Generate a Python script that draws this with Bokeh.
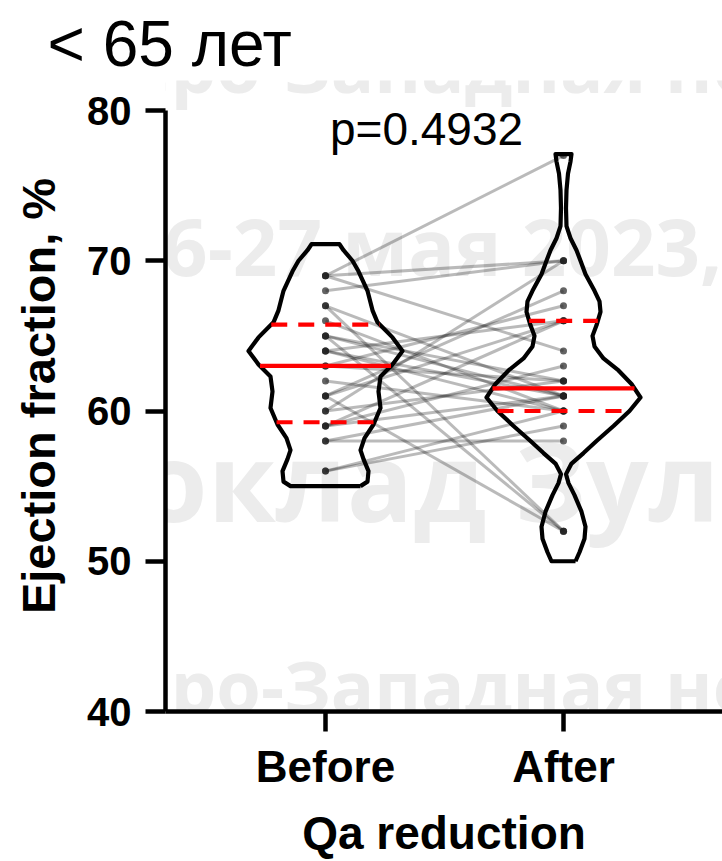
import numpy as np
from bokeh.plotting import figure
from bokeh.models import Label, FixedTicker, Range1d, ColumnDataSource, Title
from bokeh.embed import file_html
from bokeh.resources import INLINE

# ---------------- data ----------------
categories = ["Before", "After"]
before = [69, 69, 69, 68, 67, 67, 66, 65, 65, 65, 64, 64, 64, 63,
          63, 62, 61, 61, 61, 60, 60, 59, 59, 59, 58, 58, 56, 56]
after = [77, 70, 64, 70, 52, 61, 60, 61, 62, 52, 61, 60, 66, 62,
         67, 60, 68, 66, 52, 70, 62, 66, 63, 61, 58, 61, 59, 60]
y_ticks = [40, 50, 60, 70, 80]
p_value_text = "p=0.4932"
title_text = "< 65 лет"
x_title = "Qa reduction"
y_title = "Ejection fraction, %"

# violin outlines: level (EF, %) and relative density (78 = widest)
before_levels = [55.0, 55.3, 56.0, 56.8, 57.4, 58.2, 59.1, 60.2, 61.3, 62.3,
                 63.1, 64.0, 64.9, 65.9, 66.7, 68.0, 69.3, 70.0, 70.7, 71.1]
before_density = [35, 42, 43, 38, 35, 39, 48, 55, 53, 55,
                  67, 77, 67, 52, 47, 42, 33, 27, 18, 14]
after_levels = [50.0, 50.6, 51.5, 52.3, 53.3, 54.4, 55.2, 55.8, 56.5, 57.2,
                58.0, 59.0, 60.0, 60.9, 61.8, 62.7, 63.5, 64.3, 65.0, 65.7,
                66.6, 67.3, 68.0, 69.1, 70.0, 70.7, 71.5, 72.3, 73.5, 74.7,
                75.8, 76.6, 77.1]
after_density = [12, 16, 21, 22, 18, 11, 5, 2.5, 8, 20,
                 33, 50, 66, 77, 68, 55, 40, 31, 29, 33,
                 37, 36, 31, 22, 17, 13, 7, 3, 2.5, 3,
                 4.5, 7, 8]

watermarks = ["Северо-Западная не", "26-27 мая 2023,", "Доклад Зуль",
              "Северо-Западная не"]

# ---------------- geometry ----------------
W, H = 722, 861
LEFT, TOP, BOTTOM = 165, 80, 150   # frame borders (px)
AX_TOP_PX, AX_BOT_PX = 110, 711    # where 80 and 40 sit
PX_PER_Y = (AX_BOT_PX - AX_TOP_PX) / (y_ticks[-1] - y_ticks[0])
Y0 = y_ticks[0]
Y1 = y_ticks[-1] + (AX_TOP_PX - TOP) / PX_PER_Y
PX_PER_X = 238.0
X0 = 1 - (325 - LEFT) / PX_PER_X
X1 = 2 + (W - 563) / PX_PER_X

def px2x(px):
    return X0 + (px - LEFT) / PX_PER_X
def px2y(py):
    return Y1 - (py - TOP) / PX_PER_Y

p = figure(width=W, height=H, x_range=Range1d(X0, X1), y_range=Range1d(Y0, Y1),
           output_backend="svg", toolbar_location=None,
           min_border_left=LEFT, min_border_right=0, min_border_top=TOP,
           min_border_bottom=BOTTOM)
p.outline_line_color = None
p.grid.visible = False
p.background_fill_color = "white"
p.border_fill_color = "white"

# title in the top panel, shifted left over the axis area
p.add_layout(Title(text=title_text, align="left", offset=47 - LEFT,
                   vertical_align="middle",
                   text_font="Liberation Sans", text_font_style="normal",
                   text_font_size="64px", text_color="black", standoff=0),
             "above")

# watermark (behind everything)
wm_specs = [(-6, 64, 72), (118, 245, 78), (55, 478, 110), (-6, 684, 72)]
for txt, (wx, wy, fs) in zip(watermarks, wm_specs):
    p.add_layout(Label(x=px2x(wx), y=px2y(wy), text=txt, text_font="Open Sans",
                       text_font_style="bold", text_font_size=f"{fs}px",
                       text_color="#ececec", text_baseline="middle",
                       level="underlay"))

# paired lines
src = ColumnDataSource(dict(before=before, after=after))
p.segment(x0=1, y0="before", x1=2, y1="after", source=src,
          line_color="black", line_alpha=0.27, line_width=3)

# dots
p.scatter(x=[1] * len(before), y=before, size=7, fill_color="#222222",
          fill_alpha=0.7, line_color=None)
p.scatter(x=[2] * len(after), y=after, size=7, fill_color="#222222",
          fill_alpha=0.7, line_color=None)

HALF_MAX = 78 / PX_PER_X  # widest half-width in x units

def violin(center, levels, dens, values):
    lv = np.array(levels, float)
    hw = np.array(dens, float) / 78.0 * HALF_MAX
    xs = np.concatenate([center + hw, (center - hw)[::-1], [center + hw[0]]])
    ys = np.concatenate([lv, lv[::-1], [lv[0]]])
    p.line(xs, ys, line_color="black", line_width=4.2, line_join="round")
    q1, med, q3 = np.percentile(values, [25, 50, 75], method="weibull")
    for v, dash in [(med, "solid"), (q1, "16 11"), (q3, "16 11")]:
        w = np.interp(v, lv, hw)
        p.line([center - w, center + w], [v, v], line_color="#ff0000",
               line_width=4.2, line_dash=dash)

violin(1, before_levels, before_density, before)
violin(2, after_levels, after_density, after)

# axes
ax_font = "Liberation Sans"
for ax in (p.xaxis[0], p.yaxis[0]):
    ax.axis_line_width = 4.5
    ax.major_tick_line_width = 4.5
    ax.major_tick_out = 20
    ax.major_tick_in = 0
    ax.minor_tick_line_color = None
    ax.major_label_text_font = ax_font
    ax.major_label_text_font_style = "bold"
    ax.major_label_text_color = "black"
    ax.axis_label_text_font = ax_font
    ax.axis_label_text_font_style = "bold"
    ax.axis_label_text_font_size = "46px"
    ax.axis_label_text_color = "black"
    ax.axis_line_color = "black"
    ax.major_tick_line_color = "black"

p.yaxis.ticker = FixedTicker(ticks=y_ticks)
p.yaxis.bounds = (y_ticks[0], y_ticks[-1])
p.yaxis.axis_label = y_title
p.yaxis.major_label_text_font_size = "40px"
p.yaxis.major_label_standoff = 14
p.yaxis.axis_label_standoff = 19
p.yaxis.axis_label_text_font_size = "47px"

p.xaxis.ticker = FixedTicker(ticks=[1, 2])
p.xaxis.major_label_overrides = {i + 1: c for i, c in enumerate(categories)}
p.xaxis.axis_label = x_title
p.xaxis.major_label_text_font_size = "44px"
p.xaxis.major_label_standoff = 10
p.xaxis.axis_label_standoff = 13

# p-value
p.add_layout(Label(x=px2x(426), y=px2y(128), text=p_value_text, text_font=ax_font,
                   text_font_size="46px", text_align="center",
                   text_baseline="middle", text_color="black"))

open("out.html", "w").write(file_html(p, INLINE))
